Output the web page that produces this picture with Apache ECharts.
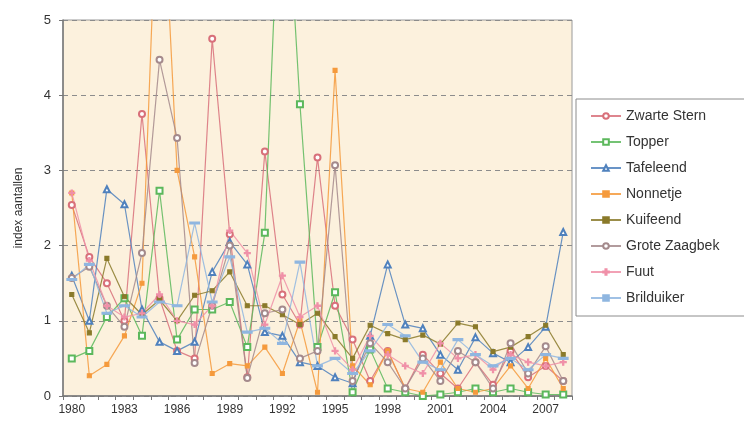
<!DOCTYPE html>
<html>
<head>
<meta charset="utf-8">
<script src="https://cdn.jsdelivr.net/npm/echarts@6/dist/echarts.min.js"></script>
<style>
  html, body { margin: 0; padding: 0; background: #fff; }
  #chart { width: 744px; height: 427px; }
</style>
</head>
<body>
<div id="chart"></div>
<script>
// jaren 1980 - 2008
const years = [];
for (let y = 1980; y <= 2008; y++) years.push(String(y));

const zwarteStern = [2.54, 1.85, 1.5, 1.0, 3.75, 1.3, 0.6, 0.5, 4.75, 2.15, 0.25, 3.25, 1.35, 0.95, 3.17, 1.2, 0.75, 0.2, 0.6, 0.1, 0.55, 0.3, 0.1, 0.45, 0.15, 0.6, 0.25, 0.4, 0.2];
const topper = [0.5, 0.6, 1.05, 1.3, 0.8, 2.73, 0.75, 1.15, 1.15, 1.25, 0.65, 2.17, 7.8, 3.88, 0.65, 1.38, 0.05, 0.62, 0.1, 0.05, 0.0, 0.02, 0.05, 0.1, 0.05, 0.1, 0.05, 0.02, 0.02];
const tafeleend = [1.6, 1.0, 2.75, 2.55, 1.15, 0.72, 0.6, 0.72, 1.65, 2.05, 1.75, 0.85, 0.8, 0.45, 0.4, 0.25, 0.17, 0.8, 1.75, 0.95, 0.9, 0.55, 0.35, 0.78, 0.57, 0.45, 0.65, 0.92, 2.18];
const nonnetje = [2.7, 0.27, 0.42, 0.8, 1.5, 7.7, 3.0, 1.85, 0.3, 0.43, 0.4, 0.65, 0.3, 1.0, 0.05, 4.33, 0.4, 0.15, 0.6, 0.1, 0.05, 0.45, 0.1, 0.05, 0.1, 0.4, 0.1, 0.5, 0.1];
const kuifeend = [1.35, 0.84, 1.83, 1.32, 1.08, 1.28, 1.0, 1.34, 1.4, 1.65, 1.2, 1.2, 1.08, 0.95, 1.1, 0.79, 0.5, 0.94, 0.83, 0.75, 0.81, 0.69, 0.97, 0.92, 0.59, 0.65, 0.79, 0.94, 0.55];
const groteZaagbek = [1.57, 1.72, 1.2, 0.92, 1.9, 4.47, 3.43, 0.44, 1.2, 2.0, 0.24, 1.1, 1.15, 0.5, 0.6, 3.07, 0.2, 0.7, 0.45, 0.1, 0.5, 0.2, 0.6, 0.45, 0.1, 0.7, 0.3, 0.66, 0.2];
const fuut = [2.7, 1.8, 1.2, 1.05, 1.1, 1.35, 1.0, 0.95, 1.2, 2.2, 1.9, 0.95, 1.6, 1.05, 1.2, 0.6, 0.35, 0.8, 0.55, 0.4, 0.3, 0.7, 0.5, 0.55, 0.35, 0.55, 0.45, 0.4, 0.45];
const brilduiker = [1.55, 1.75, 1.1, 1.2, 1.05, 1.25, 1.2, 2.3, 1.25, 1.85, 0.85, 0.9, 0.7, 1.78, 0.4, 0.5, 0.3, 0.6, 0.95, 0.8, 0.45, 0.35, 0.75, 0.55, 0.4, 0.5, 0.35, 0.55, 0.5];

const yTicks = [0, 1, 2, 3, 4, 5];

const plusPath = 'path://M4,0h2v4h4v2h-4v4h-2v-4h-4v-2h4z';
const dashPath = 'path://M0,0h10v2h-10z';

const seriesDefs = [
  { name: 'Zwarte Stern', data: zwarteStern, color: '#d8707a', symbol: 'emptyCircle' },
  { name: 'Topper', data: topper, color: '#5cb85c', symbol: 'emptyRect' },
  { name: 'Tafeleend', data: tafeleend, color: '#4f81bd', symbol: 'emptyTriangle' },
  { name: 'Nonnetje', data: nonnetje, color: '#f59a3c', symbol: 'rect' },
  { name: 'Kuifeend', data: kuifeend, color: '#8a7a2a', symbol: 'rect' },
  { name: 'Grote Zaagbek', data: groteZaagbek, color: '#a48a8c', symbol: 'emptyCircle' },
  { name: 'Fuut', data: fuut, color: '#f090a8', symbol: plusPath },
  { name: 'Brilduiker', data: brilduiker, color: '#8fb6e0', symbol: dashPath }
];

const chart = echarts.init(document.getElementById('chart'));

const option = {
  animation: false,
  backgroundColor: '#fff',
  textStyle: { fontFamily: 'Liberation Sans, Arial, sans-serif' },
  grid: {
    left: 63, right: 172, top: 20, bottom: 31,
    show: true,
    backgroundColor: '#fcf1dd',
    borderColor: '#9a9a9a',
    borderWidth: 1
  },
  legend: {
    orient: 'vertical',
    left: 576,
    top: 99,
    padding: [9, 60, 10, 14],
    itemWidth: 30,
    itemHeight: 7,
    itemGap: 10,
    borderColor: '#8c8c8c',
    borderWidth: 1,
    textStyle: { fontSize: 14, color: '#333', lineHeight: 16 },
    data: seriesDefs.map(s => s.name)
  },
  xAxis: {
    type: 'category',
    boundaryGap: true,
    data: years,
    axisLine: { lineStyle: { color: '#777', width: 1.5 } },
    axisTick: { show: true, interval: 0, length: 4, lineStyle: { color: '#777' } },
    axisLabel: {
      interval: 2,
      fontSize: 12,
      color: '#333',
      margin: 8
    },
    splitLine: { show: false }
  },
  yAxis: {
    type: 'value',
    min: yTicks[0],
    max: yTicks[yTicks.length - 1],
    interval: 1,
    name: 'index aantallen',
    nameLocation: 'middle',
    nameGap: 38,
    nameTextStyle: { fontSize: 12, color: '#333' },
    axisLine: { show: true, lineStyle: { color: '#777', width: 1.5 } },
    axisTick: { show: true, length: 4, lineStyle: { color: '#777' } },
    axisLabel: { fontSize: 13, color: '#333', margin: 12 },
    splitLine: {
      show: true,
      lineStyle: { color: '#8c8c8c', type: [5, 4], width: 1 }
    }
  },
  series: seriesDefs.map(s => ({
    name: s.name,
    type: 'line',
    data: s.data,
    clip: true,
    symbol: s.symbol,
    symbolSize: s.symbol === dashPath ? [7, 2] : (s.symbol === 'rect' ? 4 : 6),
    lineStyle: { width: 1.2, color: s.color, opacity: 0.85 },
    itemStyle: { color: s.color, borderColor: s.color, borderWidth: 1.1 }
  }))
};

chart.setOption(option);
</script>
</body>
</html>
